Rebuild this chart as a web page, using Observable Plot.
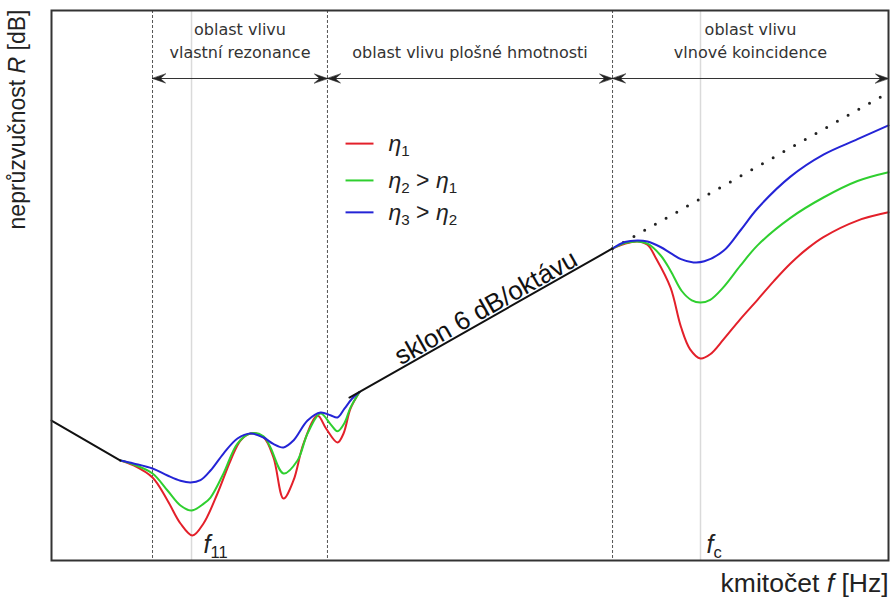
<!DOCTYPE html>
<html><head><meta charset="utf-8">
<script src="https://cdn.jsdelivr.net/npm/d3@7"></script>
<script src="https://cdn.jsdelivr.net/npm/@observablehq/plot@0.6"></script>
<style>body{margin:0;background:#fff}svg{display:block}</style>
</head><body><div id="chart"></div>
<script>
// Schematic: x = relative position on log-frequency axis (0–100), y = relative R (0–100)
const lowLine = [[0, 25.45], [8.24, 18.18]];
const massLine = [[35.6, 29.63], [67.03, 56.73]];
const massLineExtension = [[67.03, 56.73], [100, 85.1]];

const eta1Resonance = [[8.24,18.18],[9.8,17.3],[12.07,15.09],[13.86,10.91],[15.41,6.73],[16.85,4.55],[18.16,6.73],[19.83,12.18],[21.39,18.18],[22.58,21.82],[23.78,23.09],[25.33,22.4],[26.52,18.73],[27.72,11.27],[28.91,14.55],[30.11,21.27],[31.78,26.36],[32.8,24.0],[34.17,21.45],[34.89,23.09],[35.72,27.6],[36.8,30.64]];
const eta2Resonance = [[8.24,18.18],[9.8,17.45],[12.07,15.82],[13.86,12.73],[15.41,10.0],[16.73,9.09],[18.16,10.3],[19.0,11.45],[20.55,15.82],[22.22,21.27],[23.78,23.09],[25.33,22.6],[26.16,20.55],[27.72,15.82],[29.39,18.18],[30.59,23.09],[32.14,26.73],[33.33,24.8],[34.17,23.5],[35.0,25.0],[35.72,27.8],[36.8,30.64]];
const eta3Resonance = [[8.24,18.18],[9.8,17.64],[12.07,16.73],[13.86,15.45],[15.41,14.5],[16.61,14.18],[17.8,14.6],[19.0,16.36],[20.55,19.45],[22.22,22.18],[23.78,23.09],[25.33,22.36],[26.5,21.2],[27.72,20.55],[28.91,21.82],[30.59,25.45],[32.14,26.91],[33.33,26.4],[34.17,26.0],[35.0,27.6],[35.9,29.4],[36.8,30.64]];

const eta1Coincidence = [[67.03,56.73],[68.5,57.6],[70.0,58.0],[71.2,57.4],[72.2,55.0],[73.96,49.6],[75.2,42.5],[76.3,38.4],[77.54,36.73],[78.7,37.5],[80.29,40.2],[82.3,43.9],[84.35,47.4],[86.3,50.8],[88.29,54.0],[90.3,56.7],[92.23,58.8],[96.3,61.8],[100,63.3]];
const eta2Coincidence = [[67.03,56.73],[68.5,57.7],[70.0,58.0],[71.2,57.6],[72.76,55.5],[73.96,52.7],[75.3,49.0],[76.5,47.3],[77.54,46.9],[78.7,47.4],[80.29,49.7],[82.3,53.6],[84.35,57.3],[88.29,62.3],[92.23,66.0],[96.3,69.0],[100,70.6]];
const eta3Coincidence = [[67.03,56.73],[68.5,57.9],[70.0,58.2],[71.2,58.0],[72.76,57.0],[73.96,55.9],[75.2,54.8],[76.7,54.2],[78.0,54.4],[80.29,56.3],[82.3,60.0],[84.35,64.0],[88.29,69.8],[92.23,73.8],[96.3,76.6],[100,79.1]];

const seriesNames = ["eta1", "eta2", "eta3"];
const seriesColors = ["#e3202a", "#2fcf2f", "#2424d6"];
const legendLabels = ["*η*_{1}", "*η*_{2} > *η*_{1}", "*η*_{3} > *η*_{2}"];

const regionEdges = [12.07, 32.97, 67.03, 100];
const regionNames = ["oblast vlivu\nvlastní rezonance", "oblast vlivu plošné hmotnosti", "oblast vlivu\nvlnové koincidence"];
const markedFrequencies = [16.73, 77.54];
const markedFrequencyLabels = ["*f*_{11}", "*f*_{c}"];
const slopeLabel = "sklon 6 dB/oktávu";
const yTitle = "neprůzvučnost *R* [dB]";
const xTitle = "kmitočet *f* [Hz]";

// tidy tables built from the arrays
const curves = [];
[[eta1Resonance, eta1Coincidence], [eta2Resonance, eta2Coincidence], [eta3Resonance, eta3Coincidence]].forEach((parts, s) => {
  parts.forEach((pts, p) => pts.forEach(([x, y]) => curves.push({series: seriesNames[s], seg: seriesNames[s] + p, x, y})));
});
const regions = regionNames.map((name, i) => ({name, a: regionEdges[i], b: regionEdges[i + 1]}));
const heads = regions.flatMap(r => [{x: r.a, rot: -90}, {x: r.b, rot: 90}]);

const stealth = {
  draw(ctx, l, r) {
    ctx.moveTo(0, -l);
    ctx.lineTo(-r, 0);
    ctx.lineTo(0, -l * 0.4);
    ctx.lineTo(r, 0);
    ctx.closePath();
  }
};

const arrowY = 87.64;
const legendY = [75.8, 69.1, 63.3];
const chart = Plot.plot({
  width: 892, height: 598,
  marginLeft: 51, marginRight: 4, marginTop: 10, marginBottom: 38,
  x: {domain: [0, 100], axis: null},
  y: {domain: [0, 100], axis: null},
  color: {domain: seriesNames, range: seriesColors},
  style: {fontFamily: "'Liberation Sans', Arial, sans-serif", background: "white"},
  marks: [
    Plot.ruleX(markedFrequencies, {stroke: "#dadada", strokeWidth: 1.5}),
    Plot.ruleX(regionEdges.slice(0, 3), {stroke: "#555", strokeWidth: 1, strokeDasharray: "3,2"}),
    Plot.line(massLineExtension, {x: d => d[0], y: d => d[1], stroke: "#222", strokeWidth: 3, strokeDasharray: "0,12.3", strokeLinecap: "round"}),
    Plot.line(curves, {x: "x", y: "y", z: "seg", stroke: "series", strokeWidth: 2, curve: "catmull-rom"}),
    Plot.line(lowLine, {x: d => d[0], y: d => d[1], stroke: "#111", strokeWidth: 2}),
    Plot.line(massLine, {x: d => d[0], y: d => d[1], stroke: "#111", strokeWidth: 2}),
    // region annotations
    Plot.ruleY(regions, {y: arrowY, x1: "a", x2: "b", stroke: "#333", strokeWidth: 1.2}),
    Plot.vector(heads, {x: "x", y: arrowY, rotate: "rot", length: 13, r: 4.5, anchor: "end", shape: stealth, fill: "#222", stroke: "#222", strokeWidth: 0.6}),
    Plot.text(regions, {x: d => (d.a + d.b) / 2, y: 91.45, text: "name", lineAnchor: "bottom", lineHeight: 1.4, fontSize: 16, fill: "#333", fontFamily: "'DejaVu Sans', sans-serif"}),
    // legend
    Plot.link(seriesNames, {x1: 35.13, x2: 38.47, y1: legendY, y2: legendY, stroke: d => d, strokeWidth: 2}),
    Plot.text(legendLabels, {x: 40.26, y: legendY, text: d => d, textAnchor: "start", lineAnchor: "middle", fontSize: 23, fill: "#222"}),
    // slope label
    Plot.text([slopeLabel], {x: 52.4, y: 44.1, text: d => d, rotate: -29.55, lineAnchor: "bottom", dy: -3, fontSize: 26, fill: "#111"}),
    // frequency markers
    Plot.text(markedFrequencyLabels, {x: [18.16, 78.26], y: 1.45, text: d => d, textAnchor: "start", lineAnchor: "bottom", fontSize: 25, fill: "#222"}),
    // axis titles
    Plot.text([yTitle], {frameAnchor: "top-left", dx: -34, dy: -1, rotate: -90, textAnchor: "end", lineAnchor: "middle", text: d => d, fontSize: 23, fill: "#222"}),
    Plot.text([xTitle], {frameAnchor: "bottom-right", dy: 23, textAnchor: "end", lineAnchor: "middle", text: d => d, fontSize: 26.5, fill: "#222"}),
    Plot.frame({stroke: "#333", strokeWidth: 2})
  ]
});
document.getElementById("chart").append(chart);

// rich text: *italic* and _{subscript}
const markup = /(\*[^*]+\*|_\{[^}]+\})/;
d3.select(chart).selectAll("text").each(function () {
  if (this.querySelector("tspan")) return;
  const src = this.textContent;
  if (!markup.test(src)) return;
  const fs = parseFloat(getComputedStyle(this).fontSize) || 16;
  const parts = src.split(markup).filter(Boolean);
  const el = d3.select(this);
  el.text(null);
  let shifted = 0;
  for (const p of parts) {
    const t = el.append("tspan");
    let dy;
    if (p.startsWith("_{")) {
      const s = fs * 0.22;
      t.text(p.slice(2, -1)).attr("font-size", fs * 0.66);
      dy = s - shifted; shifted = s;
    } else {
      dy = -shifted; shifted = 0;
      if (p.startsWith("*")) t.text(p.slice(1, -1)).attr("font-style", "italic");
      else t.text(p);
    }
    if (dy) t.attr("dy", dy);
  }
});
</script>
</body></html>
